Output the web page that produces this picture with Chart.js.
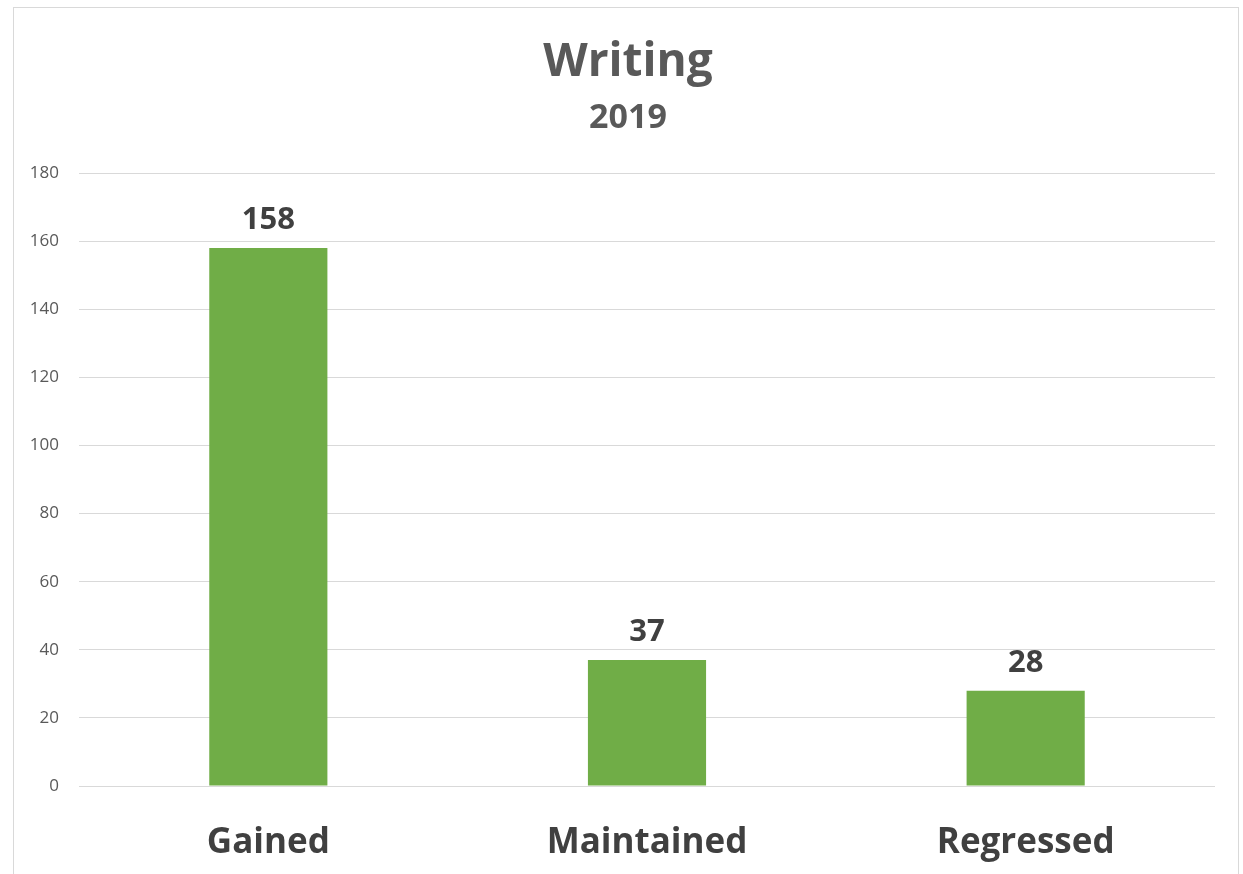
<!DOCTYPE html>
<html>
<head>
<meta charset="utf-8">
<script src="https://cdn.jsdelivr.net/npm/chart.js@4/dist/chart.umd.min.js"></script>
<style>
  html, body { margin: 0; padding: 0; background: #fff; }
  #wrap { position: relative; width: 1243px; height: 874px; overflow: hidden; }
  #frame { position: absolute; left: 13px; top: 7px; width: 1226px; height: 900px;
           border: 1px solid #d9d9d9; pointer-events: none; box-sizing: border-box; }
  canvas { position: absolute; left: 0; top: 0; }
</style>
</head>
<body>
<div id="wrap">
  <canvas id="c" width="1256" height="874"></canvas>
  <div id="frame"></div>
</div>
<script>
const titleText = "Writing";
const subtitleText = "2019";
const categories = ["Gained", "Maintained", "Regressed"];
const values = [158, 37, 28];
const yMin = 0, yMax = 180, yStep = 20;

const FONT = "'Open Sans', 'DejaVu Sans', sans-serif";

const valueLabels = {
  id: 'valueLabels',
  afterDatasetsDraw(chart) {
    const ctx = chart.ctx;
    const meta = chart.getDatasetMeta(0);
    ctx.save();
    ctx.font = "bold 31px " + FONT;
    ctx.fillStyle = "#404040";
    ctx.textAlign = "center";
    ctx.textBaseline = "alphabetic";
    meta.data.forEach((bar, i) => {
      ctx.fillText(String(values[i]), bar.x, bar.y - 19);
    });
    ctx.restore();
  }
};

new Chart(document.getElementById('c'), {
  type: 'bar',
  data: {
    labels: categories,
    datasets: [{
      data: values,
      backgroundColor: '#70ad47',
      borderWidth: 0,
      barPercentage: 0.312,
      categoryPercentage: 1.0,
      yAxisID: 'y'
    }]
  },
  options: {
    responsive: false,
    animation: false,
    events: [],
    layout: { padding: { left: 0, right: 0, top: 0, bottom: 0 } },
    plugins: {
      legend: { display: false },
      tooltip: { enabled: false },
      title: {
        display: true,
        text: titleText,
        color: '#595959',
        font: { family: FONT, size: 46, weight: 'bold' },
        padding: { top: 35, bottom: 8 }
      },
      subtitle: {
        display: true,
        text: subtitleText,
        color: '#595959',
        font: { family: FONT, size: 34, weight: 'bold' },
        padding: { top: 0, bottom: 34 }
      }
    },
    scales: {
      x: {
        grid: { display: false, drawTicks: false },
        border: { display: false },
        ticks: {
          color: '#404040',
          padding: 36,
          maxRotation: 0,
          font: { family: FONT, size: 35, weight: 'bold' }
        },
        afterFit(scale) { scale.height = 88; }
      },
      y: {
        min: yMin,
        max: yMax,
        grid: { color: '#d9d9d9', lineWidth: 1, drawTicks: false },
        border: { display: false },
        ticks: {
          stepSize: yStep,
          color: '#595959',
          padding: 20,
          font: { family: FONT, size: 17 }
        },
        afterFit(scale) { scale.width = 79; }
      },
      yRightSpacer: {
        type: 'linear',
        position: 'right',
        min: yMin,
        max: yMax,
        grid: { display: false, drawTicks: false },
        border: { display: false },
        ticks: { display: false },
        afterFit(scale) { scale.width = 41; }
      }
    }
  },
  plugins: [valueLabels]
});
</script>
</body>
</html>
